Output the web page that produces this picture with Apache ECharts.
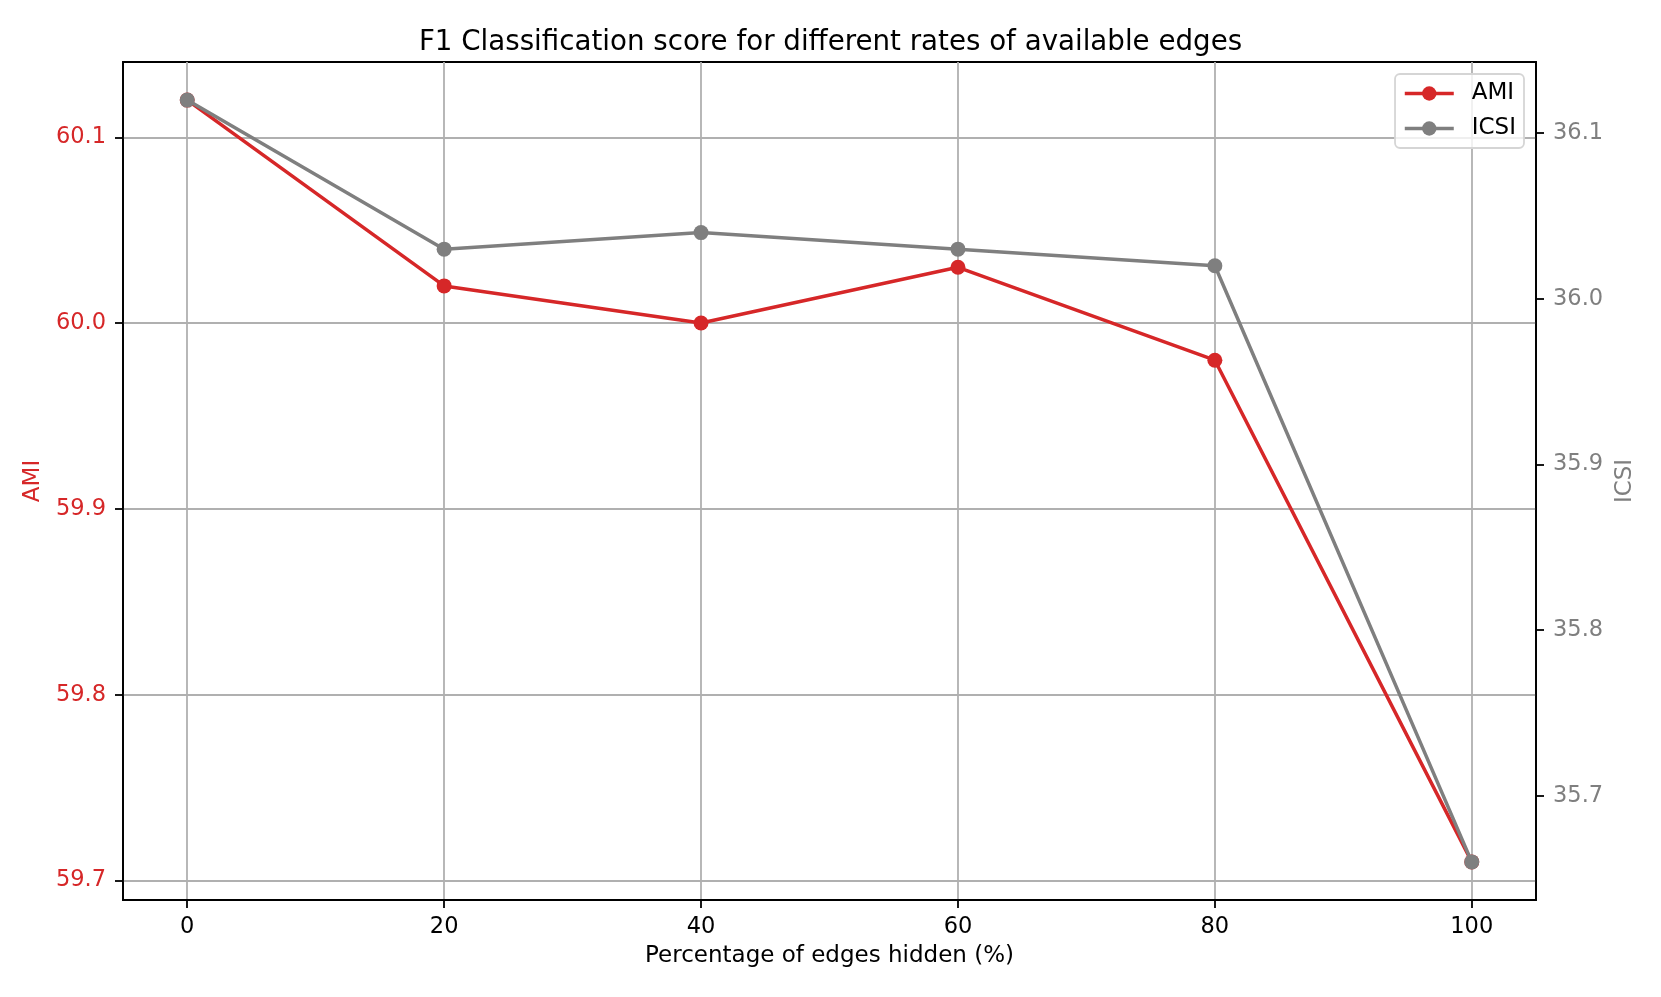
<!DOCTYPE html>
<html>
<head>
<meta charset="utf-8">
<script src="https://cdn.jsdelivr.net/npm/echarts@6/dist/echarts.min.js"></script>
<style>
html,body{margin:0;padding:0;background:#fff;}
#chart{width:1661px;height:997px;}
</style>
</head>
<body>
<div id="chart"></div>
<script>
const xValues = [0, 20, 40, 60, 80, 100];
const amiValues = [60.12, 60.02, 60.00, 60.03, 59.98, 59.71];
const icsiValues = [36.12, 36.03, 36.04, 36.03, 36.02, 35.66];
const xTicks = [0, 20, 40, 60, 80, 100];
const amiTicks = [59.7, 59.8, 59.9, 60.0, 60.1];
const icsiTicks = [35.7, 35.8, 35.9, 36.0, 36.1];

const RED = '#d62728';
const GRAY = '#7f7f7f';
const FONT = 'DejaVu Sans';
const FS = 22.5;
const NFS = 23;

const chart = echarts.init(document.getElementById('chart'), null, {renderer: 'canvas'});
const pairs = (ys) => xValues.map((x, i) => [x, ys[i]]);

chart.setOption({
  animation: false,
  backgroundColor: '#ffffff',
  textStyle: {fontFamily: FONT},
  title: {
    text: 'F1 Classification score for different rates of available edges',
    left: 'center', top: 24,
    textStyle: {fontFamily: FONT, fontSize: 27.7, fontWeight: 'normal', color: '#000'}
  },
  grid: {
    left: 123, right: 125, top: 62, bottom: 97,
    show: true, borderColor: '#000', borderWidth: 1.8, backgroundColor: 'transparent'
  },
  legend: {
    orient: 'vertical', right: 137, top: 74,
    padding: [8, 8, 8, 8], itemGap: 12, itemWidth: 49, itemHeight: 18,
    backgroundColor: 'rgba(255,255,255,0.8)', borderColor: '#d5d5d5', borderWidth: 1.8, borderRadius: 5,
    lineStyle: {width: 3.5},
    textStyle: {fontFamily: FONT, fontSize: NFS, color: '#000', padding: [0, 0, 0, 13]},
    data: ['AMI', 'ICSI']
  },
  xAxis: {
    type: 'value', min: -5, max: 105,
    name: 'Percentage of edges hidden (%)', nameLocation: 'middle', nameGap: 45,
    nameTextStyle: {fontFamily: FONT, fontSize: NFS, color: '#000'},
    axisLine: {show: true, onZero: false, lineStyle: {color: '#000', width: 1.8}},
    axisTick: {show: true, inside: false, length: 8, lineStyle: {color: '#000', width: 1.8}, customValues: xTicks},
    axisLabel: {customValues: xTicks, fontFamily: FONT, fontSize: FS, color: '#000', margin: 16},
    splitLine: {show: true, lineStyle: {color: '#b0b0b0', width: 1.8}}
  },
  yAxis: [
    {
      type: 'value', min: 59.6895, max: 60.1405, position: 'left',
      name: 'AMI', nameLocation: 'middle', nameGap: 78, nameRotate: 90,
      nameTextStyle: {fontFamily: FONT, fontSize: NFS, color: RED},
      axisLine: {show: true, onZero: false, lineStyle: {color: '#000', width: 1.8}},
      axisTick: {show: true, length: 8, lineStyle: {color: '#000', width: 1.8}, customValues: amiTicks},
      axisLabel: {customValues: amiTicks, fontFamily: FONT, fontSize: FS, color: RED, margin: 17,
                  formatter: v => Number(v).toFixed(1)},
      splitLine: {show: true, lineStyle: {color: '#b0b0b0', width: 1.8}}
    },
    {
      type: 'value', min: 35.637, max: 36.143, position: 'right',
      name: 'ICSI', nameLocation: 'middle', nameGap: 74, nameRotate: 90,
      nameTextStyle: {fontFamily: FONT, fontSize: NFS, color: GRAY},
      axisLine: {show: true, onZero: false, lineStyle: {color: '#000', width: 1.8}},
      axisTick: {show: true, length: 8, lineStyle: {color: '#000', width: 1.8}, customValues: icsiTicks},
      axisLabel: {customValues: icsiTicks, fontFamily: FONT, fontSize: FS, color: GRAY, margin: 17,
                  formatter: v => Number(v).toFixed(1)},
      splitLine: {show: false}
    }
  ],
  series: [
    {
      name: 'AMI', type: 'line', yAxisIndex: 0, data: pairs(amiValues),
      symbol: 'circle', symbolSize: 15, z: 3,
      itemStyle: {color: RED}, lineStyle: {color: RED, width: 3.5}
    },
    {
      name: 'ICSI', type: 'line', yAxisIndex: 1, data: pairs(icsiValues),
      symbol: 'circle', symbolSize: 15, z: 4,
      itemStyle: {color: GRAY}, lineStyle: {color: GRAY, width: 3.5}
    }
  ]
});
</script>
</body>
</html>
